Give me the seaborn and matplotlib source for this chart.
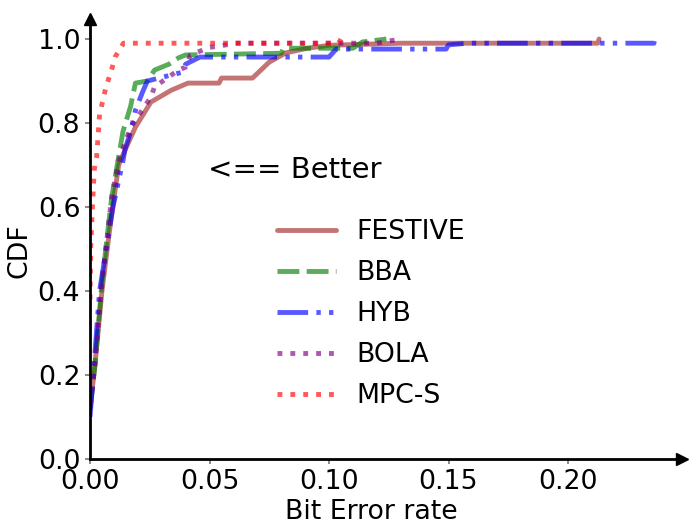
import numpy as np
import pandas as pd
import matplotlib
matplotlib.use("Agg")
import matplotlib.pyplot as plt
import seaborn as sns

# ---- data ----
methods = ["FESTIVE", "BBA", "HYB", "BOLA", "MPC-S"]

festive_x = [0, 0.002, 0.005, 0.009, 0.012, 0.015, 0.019, 0.0255, 0.034, 0.041, 0.054, 0.055,
             0.068, 0.075, 0.082, 0.091, 0.10, 0.13, 0.2125, 0.213]
festive_y = [0.12, 0.22, 0.40, 0.58, 0.70, 0.74, 0.79, 0.85, 0.878, 0.895, 0.895, 0.907,
             0.907, 0.945, 0.967, 0.978, 0.985, 0.99, 0.99, 1.0]

bba_x = [0, 0.002, 0.005, 0.009, 0.0138, 0.017, 0.019, 0.024, 0.027, 0.033, 0.037, 0.040,
         0.08, 0.081, 0.11, 0.114, 0.124]
bba_y = [0.12, 0.22, 0.42, 0.62, 0.78, 0.84, 0.895, 0.90, 0.926, 0.94, 0.955, 0.962,
         0.966, 0.978, 0.978, 0.993, 1.0]

hyb_x = [0, 0.001, 0.004, 0.0096, 0.0138, 0.0146, 0.017, 0.019, 0.022, 0.024, 0.038, 0.040,
         0.046, 0.10, 0.103, 0.149, 0.150, 0.158, 0.236, 0.236]
hyb_y = [0.10, 0.17, 0.40, 0.60, 0.71, 0.736, 0.78, 0.83, 0.874, 0.90, 0.92, 0.94,
         0.957, 0.957, 0.976, 0.976, 0.986, 0.99, 0.99, 1.0]

bola_x = [0, 0.002, 0.005, 0.009, 0.012, 0.017, 0.0255, 0.027, 0.037, 0.040, 0.042, 0.05,
          0.057, 0.06, 0.12, 0.13]
bola_y = [0.13, 0.22, 0.42, 0.62, 0.71, 0.79, 0.862, 0.886, 0.926, 0.933, 0.962, 0.98,
          0.986, 0.99, 0.99, 1.0]

mpcs_x = [0, 0.0003, 0.001, 0.0018, 0.0028, 0.004, 0.0067, 0.009, 0.0105, 0.014, 0.104, 0.105]
mpcs_y = [0.38, 0.505, 0.60, 0.69, 0.72, 0.82, 0.886, 0.926, 0.957, 0.99, 0.99, 1.0]

x_ticks = [0.00, 0.05, 0.10, 0.15, 0.20]
y_ticks = [0.0, 0.2, 0.4, 0.6, 0.8, 1.0]

series = {
    "FESTIVE": (festive_x, festive_y),
    "BBA": (bba_x, bba_y),
    "HYB": (hyb_x, hyb_y),
    "BOLA": (bola_x, bola_y),
    "MPC-S": (mpcs_x, mpcs_y),
}
frames = []
for m in methods:
    xs, ys = series[m]
    frames.append(pd.DataFrame({"x": xs, "y": ys, "method": m}))
df = pd.concat(frames, ignore_index=True)

palette = {"FESTIVE": "brown", "BBA": "green", "HYB": "blue", "BOLA": "purple", "MPC-S": "red"}
dashes = {"FESTIVE": "", "BBA": (4.5, 1.5), "HYB": (6.3, 1.7, 0.9, 1.7, 0.9, 1.7),
          "BOLA": (1, 1.65), "MPC-S": (1, 1.65)}

sns.set_style("white")
plt.rcParams["font.family"] = ["DejaVu Sans"]
plt.rcParams["text.color"] = "black"
plt.rcParams["axes.labelcolor"] = "black"
plt.rcParams["xtick.labelcolor"] = "black"
plt.rcParams["ytick.labelcolor"] = "black"
FS = 19.3

W, H = 694, 529
fig = plt.figure(figsize=(W / 100, H / 100), dpi=100)
left, right, bottom, top = 90, 682, 459, 18.5
ax = fig.add_axes([left / W, 1 - bottom / H, (right - left) / W, (bottom - top) / H])

sns.lineplot(data=df, x="x", y="y", hue="method", style="method", hue_order=methods,
             style_order=methods, palette=palette, dashes=dashes, sort=False,
             estimator=None, units="method", lw=3.5, alpha=0.65, ax=ax, legend=True)

ax.set_xlim(0, (right - left) / 2390)
ax.set_ylim(0, (bottom - top) / 420)
ax.set_xticks(x_ticks)
ax.set_yticks(y_ticks)
ax.set_xticklabels([f"{v:.2f}" for v in x_ticks])
ax.set_yticklabels([f"{v:.1f}" for v in y_ticks])
ax.tick_params(axis="both", which="major", labelsize=FS, length=3.5, width=1.3,
               color="grey", labelcolor="black", direction="out", left=True, bottom=True)

for s in ["top", "right"]:
    ax.spines[s].set_visible(False)
for s in ["left", "bottom"]:
    ax.spines[s].set_linewidth(2)
    ax.spines[s].set_color("black")
ax.plot(1, 0, ">k", ms=8, transform=ax.transAxes, clip_on=False)
ax.plot(0, 1, "^k", ms=8, transform=ax.transAxes, clip_on=False)

ax.set_xlabel("Bit Error rate", fontsize=FS, color="black")
ax.set_ylabel("CDF", fontsize=FS, color="black")
ax.xaxis.set_label_coords((371.5 - left) / (right - left), (bottom - 499) / (bottom - top))
ax.yaxis.set_label_coords((33 - left) / (right - left), (bottom - 251) / (bottom - top))

handles, labels = ax.get_legend_handles_labels()
hl = [(h, l) for h, l in zip(handles, labels) if l in methods]
leg = ax.legend([h for h, _ in hl], [l for _, l in hl], frameon=False, fontsize=FS,
                loc="upper left", bbox_to_anchor=(253 / W, 1 - 195 / H),
                bbox_transform=fig.transFigure, handlelength=2.2, handletextpad=0.75,
                labelspacing=0.56)
for h in leg.legend_handles:
    h.set_linewidth(3.5)
for t in leg.get_texts():
    t.set_color("black")

fig.text(295 / W, 1 - 170 / H, "<== Better", ha="center", va="center", fontsize=21,
         color="black")

fig.savefig("out.png", dpi=100)
